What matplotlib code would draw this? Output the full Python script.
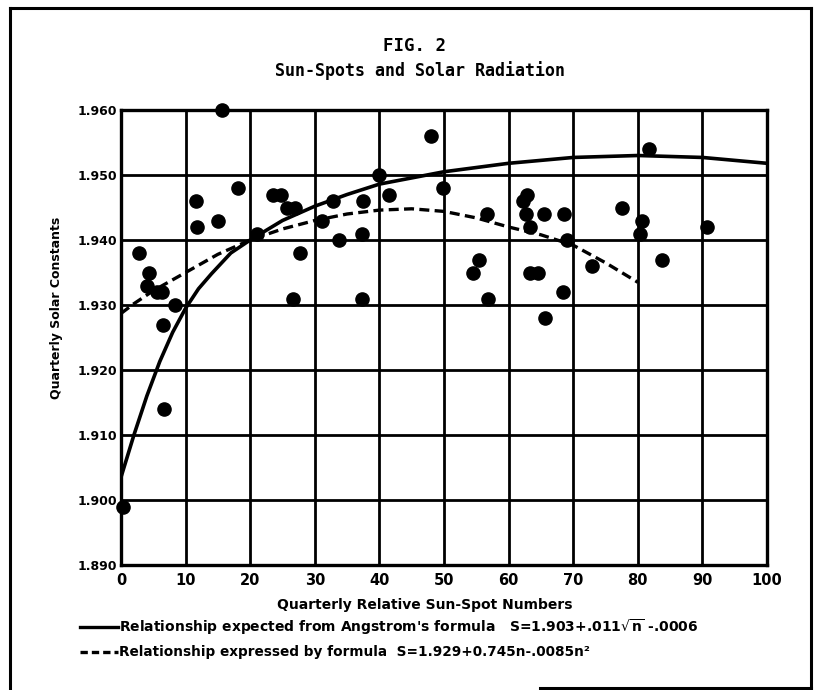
import matplotlib
matplotlib.use("Agg")
import matplotlib.pyplot as plt
from matplotlib.lines import Line2D

# ── Data ──────────────────────────────────────────────────────────────────────
spot_n = [0.3, 2.8, 4.3, 4.1, 5.6, 6.3, 8.4, 6.5, 6.7, 11.6, 11.7, 15.6, 15.0,
          18.1, 21.0, 23.6, 24.8, 25.7, 27.0, 27.7, 26.6, 31.1, 32.8, 33.7,
          37.5, 37.3, 37.3, 39.9, 41.5, 48.0, 49.8, 56.7, 55.4, 54.5, 56.8,
          62.8, 62.2, 62.7, 65.5, 68.6, 63.3, 63.3, 64.6, 68.4, 69.0, 65.6,
          72.9, 77.6, 81.7, 80.6, 80.3, 83.7, 90.7]
solar_const = [1.899, 1.938, 1.935, 1.933, 1.932, 1.932, 1.930, 1.927, 1.914,
               1.946, 1.942, 1.960, 1.943, 1.948, 1.941, 1.947, 1.947, 1.945,
               1.945, 1.938, 1.931, 1.943, 1.946, 1.940, 1.946, 1.941, 1.931,
               1.950, 1.947, 1.956, 1.948, 1.944, 1.937, 1.935, 1.931, 1.947,
               1.946, 1.944, 1.944, 1.944, 1.942, 1.935, 1.935, 1.932, 1.940,
               1.928, 1.936, 1.945, 1.954, 1.943, 1.941, 1.937, 1.942]

# Angstrom curve (solid)
ang_n = [0, 2, 4, 6, 8, 10, 12, 14, 17, 20, 25, 30, 35, 40, 50, 60, 70, 80, 90, 100]
ang_s = [1.9035, 1.9100, 1.9160, 1.9213, 1.9258, 1.9295, 1.9325, 1.9348, 1.9380,
         1.9400, 1.9430, 1.9452, 1.9470, 1.9486, 1.9505, 1.9518, 1.9527, 1.9530,
         1.9527, 1.9518]

# empirical formula curve (dashed)
emp_n = [0, 2, 5, 10, 15, 20, 25, 30, 35, 40, 45, 50, 55, 60, 65, 70, 75, 80]
emp_s = [1.9287, 1.9302, 1.9322, 1.9350, 1.9378, 1.9400, 1.9417, 1.9430, 1.9440,
         1.9446, 1.9448, 1.9444, 1.9434, 1.9420, 1.9408, 1.9392, 1.9365, 1.9335]

x_ticks = list(range(0, 101, 10))
y_ticks = [1.890, 1.900, 1.910, 1.920, 1.930, 1.940, 1.950, 1.960]
y_labels = ["1.890", "1.900", "1.910", "1.920", "1.930", "1.940", "1.950", "1.960"]

# ── Figure ────────────────────────────────────────────────────────────────────
W, H = 814, 690
fig = plt.figure(figsize=(W / 100, H / 100), dpi=100)
ax = fig.add_axes([121 / W, 1 - 565 / H, (767 - 121) / W, (565 - 110) / H])

ax.set_xlim(0, 100)
ax.set_ylim(1.890, 1.960)
ax.set_xticks(x_ticks)
ax.set_yticks(y_ticks)
ax.set_yticklabels(y_labels)
ax.grid(True, color="black", lw=2.0)
ax.set_axisbelow(True)
for sp in ax.spines.values():
    sp.set_linewidth(2.4)
ax.tick_params(axis="x", length=0, pad=6)
ax.tick_params(axis="y", length=0, pad=3)
for lbl in ax.get_xticklabels():
    lbl.set_fontsize(10.5)
    lbl.set_fontweight("bold")
for lbl in ax.get_yticklabels():
    lbl.set_fontsize(9)
    lbl.set_fontweight("bold")

ax.plot(ang_n, ang_s, color="black", lw=2.6, solid_capstyle="butt", zorder=3)
ax.plot(emp_n, emp_s, color="black", lw=2.4, dashes=(3.0, 1.6), zorder=3)
ax.scatter(spot_n, solar_const, s=90, color="black", zorder=4, clip_on=False)

ax.set_xlabel("Quarterly Relative Sun-Spot Numbers", fontsize=10,
              fontweight="bold")
ax.xaxis.set_label_coords((425 - 121) / 646, -(605 - 565) / 455)
ax.xaxis.label.set_va("center")
ax.set_ylabel("Quarterly Solar Constants", fontsize=9, fontweight="bold")
ax.yaxis.set_label_coords((57 - 121) / 646, (565 - 308) / 455)
ax.yaxis.label.set_va("center")

fig.text(414 / W, 1 - 46 / H, "FIG. 2", ha="center", va="center",
         family="DejaVu Sans Mono", fontweight="bold", fontsize=12.5)
fig.text(420 / W, 1 - 71 / H, "Sun-Spots and Solar Radiation", ha="center",
         va="center", family="DejaVu Sans Mono", fontweight="bold", fontsize=12)

# legend lines below the chart
fig.add_artist(Line2D([80 / W, 118 / W], [1 - 627 / H] * 2, color="black", lw=2.4))
fig.add_artist(Line2D([80 / W, 118 / W], [1 - 652 / H] * 2, color="black", lw=2.4,
                      dashes=(2.2, 1.2)))
fig.text(119 / W, 1 - 627 / H,
         r"Relationship expected from Angstrom's formula   S=1.903+.011$\mathbf{\sqrt{n}}$ -.0006",
         ha="left", va="center", fontweight="bold", fontsize=10)
fig.text(119 / W, 1 - 652 / H,
         "Relationship expressed by formula  S=1.929+0.745n-.0085n\u00b2",
         ha="left", va="center", fontweight="bold", fontsize=9.8)

# page border
for xs, ys in [([10, 811], [8, 8]), ([10, 10], [8, 690]),
               ([811, 811], [8, 688]), ([540, 811], [688, 688])]:
    fig.add_artist(Line2D([x / W for x in xs], [1 - y / H for y in ys],
                          color="black", lw=2.2))

fig.savefig("out.png", dpi=100)
